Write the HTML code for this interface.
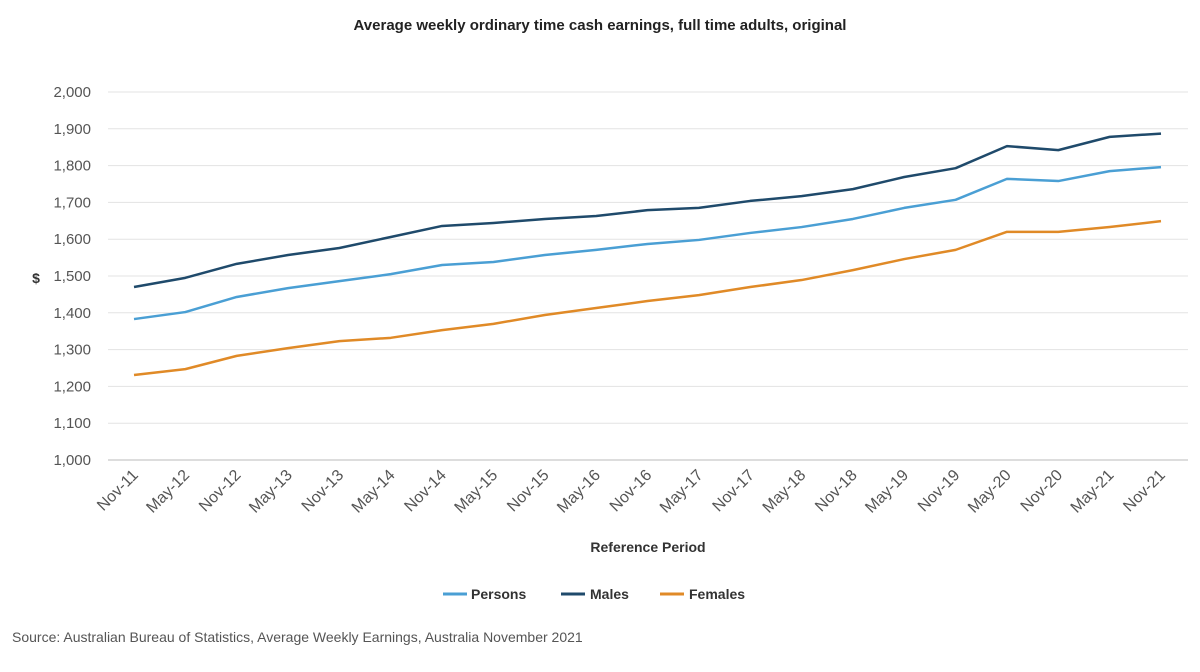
<!DOCTYPE html>
<html><head><meta charset="utf-8"><style>
body{margin:0;background:#fff;font-family:"Liberation Sans",sans-serif}
svg text{font-family:"Liberation Sans",sans-serif}
</style></head><body>
<svg id="chart" width="1200" height="667" viewBox="0 0 1200 667" xmlns="http://www.w3.org/2000/svg">
<text x="600" y="30" text-anchor="middle" font-size="15" font-weight="bold" fill="#222">Average weekly ordinary time cash earnings, full time adults, original</text>
<g id="grid"></g><g id="yticks"></g><g id="xticks"></g><g id="lines"></g>
<text x="36" y="283" text-anchor="middle" font-size="14" font-weight="bold" fill="#333">$</text>
<text x="648" y="552" text-anchor="middle" font-size="14" font-weight="bold" fill="#333">Reference Period</text>
<g>
<line x1="443" y1="594" x2="467" y2="594" stroke="#4a9fd4" stroke-width="3"/><text x="471" y="599" font-size="14" font-weight="bold" fill="#333">Persons</text>
<line x1="561" y1="594" x2="585" y2="594" stroke="#1f4a6b" stroke-width="3"/><text x="590" y="599" font-size="14" font-weight="bold" fill="#333">Males</text>
<line x1="660" y1="594" x2="684" y2="594" stroke="#e08a27" stroke-width="3"/><text x="689" y="599" font-size="14" font-weight="bold" fill="#333">Females</text>
</g>
<text x="12" y="642" font-size="14" fill="#555">Source: Australian Bureau of Statistics, Average Weekly Earnings, Australia November 2021</text>
</svg>
<script>
const categories=["Nov-11","May-12","Nov-12","May-13","Nov-13","May-14","Nov-14","May-15","Nov-15","May-16","Nov-16","May-17","Nov-17","May-18","Nov-18","May-19","Nov-19","May-20","Nov-20","May-21","Nov-21"];
const persons=[1383,1402,1443,1467,1486,1505,1530,1538,1557,1571,1587,1598,1617,1633,1655,1685,1707,1764,1758,1785,1796];
const males=[1470,1495,1533,1557,1576,1606,1636,1644,1655,1663,1679,1685,1704,1717,1736,1769,1793,1853,1842,1878,1887];
const females=[1231,1247,1283,1304,1323,1332,1353,1370,1394,1413,1432,1448,1470,1489,1516,1546,1571,1620,1620,1633,1649];
const yTicks=[1000,1100,1200,1300,1400,1500,1600,1700,1800,1900,2000];
const NS="http://www.w3.org/2000/svg";
const x0=134,x1=1161,yMin=1000,yMax=2000,py0=460,py1=92;
const xs=i=>x0+i*(x1-x0)/(categories.length-1);
const ys=v=>py0-(v-yMin)/(yMax-yMin)*(py0-py1);
function mk(t,a,p){const e=document.createElementNS(NS,t);for(const k in a)e.setAttribute(k,a[k]);p.appendChild(e);return e;}
const grid=document.getElementById('grid'),yt=document.getElementById('yticks'),xt=document.getElementById('xticks'),lg=document.getElementById('lines');
yTicks.forEach(v=>{
 const l=mk('line',{x1:108,x2:1188,y1:ys(v),y2:ys(v),stroke:v===1000?'#bbb':'#e3e3e3','stroke-width':1},grid);
 
 
 const t=mk('text',{x:91,y:ys(v)+5,'text-anchor':'end','font-size':15,fill:'#555'},yt);
 
 
 t.textContent=v.toLocaleString('en-US');
});
categories.forEach((c,i)=>{
 const x=xs(i)+5,y=476;
 const t=mk('text',{x:x,y:y,'text-anchor':'end','font-size':16,fill:'#555',transform:`rotate(-45 ${x} ${y})`},xt);
 
 
 t.textContent=c;
});
[[persons,'#4a9fd4','persons-line'],[males,'#1f4a6b','males-line'],[females,'#e08a27','females-line']].forEach(([d,c,n])=>{
 const p=mk('polyline',{points:d.map((v,i)=>xs(i)+','+ys(v)).join(' '),fill:'none',stroke:c,'stroke-width':2.5,'stroke-linejoin':'round'},lg);
 
 
});
</script>
</body></html>
